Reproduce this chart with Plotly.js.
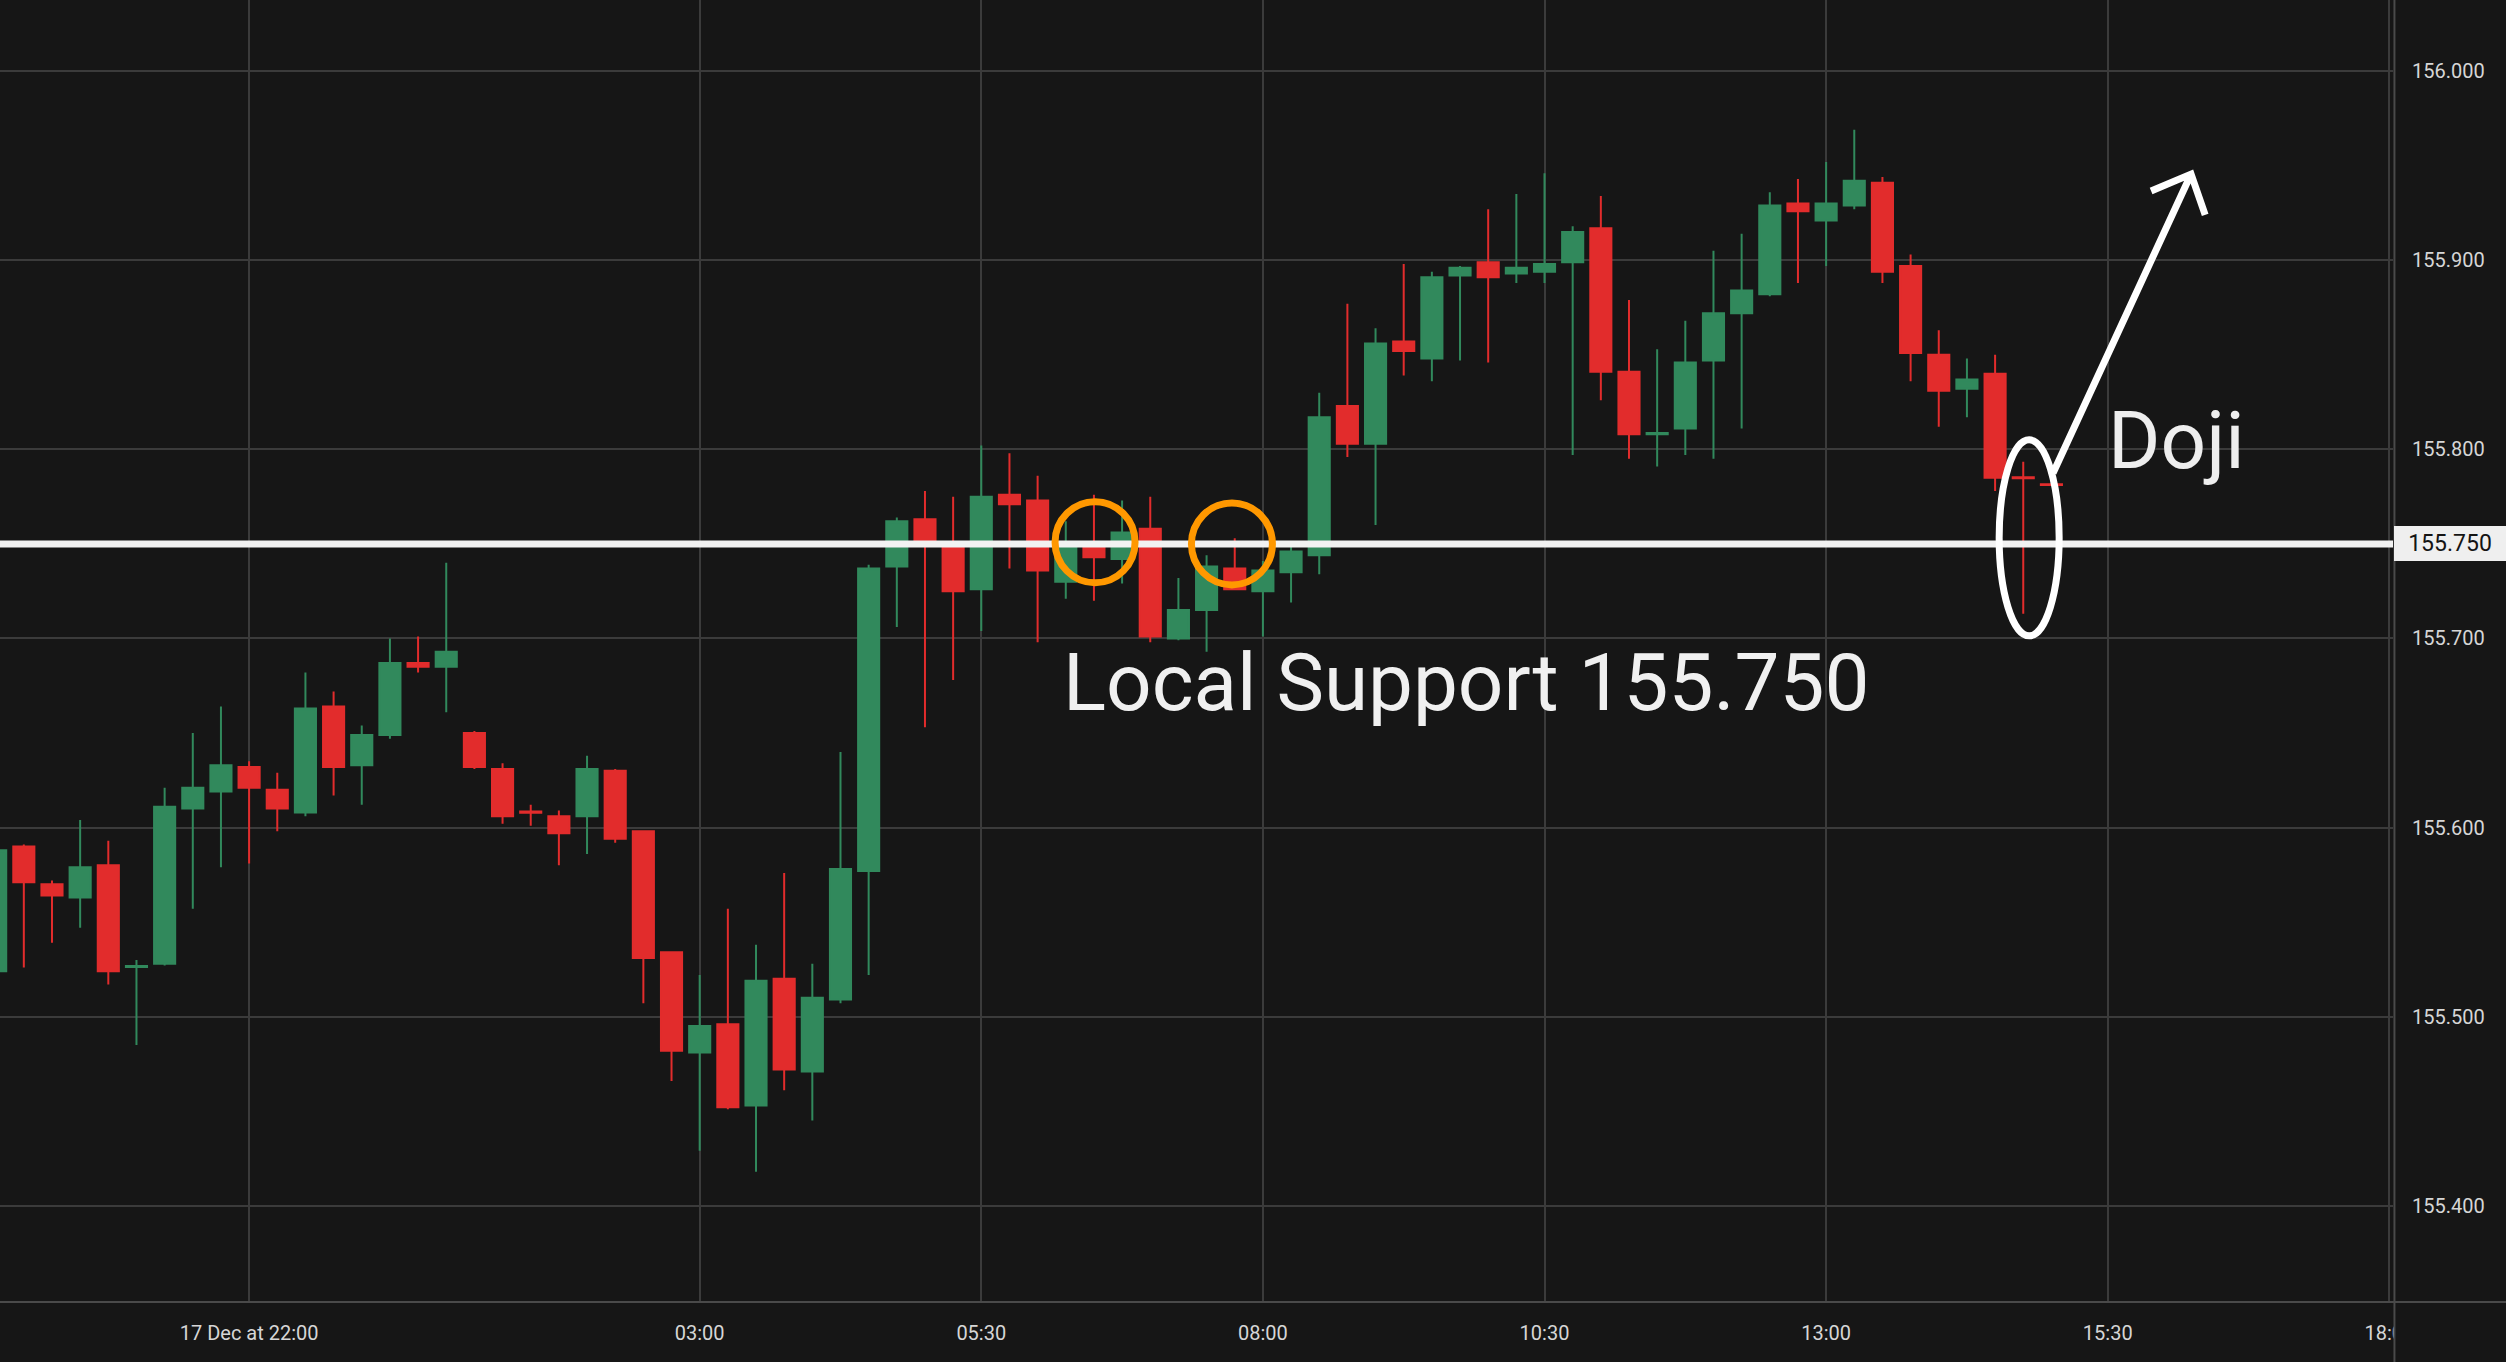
<!DOCTYPE html>
<html>
<head>
<meta charset="utf-8">
<script src="https://cdn.plot.ly/plotly-3.0.1.min.js"></script>
<style>
  html, body { margin: 0; padding: 0; background: #161616; }
  #chart { width: 2506px; height: 1362px; }
</style>
</head>
<body>
<div id="chart"></div>
<script>
// 15-minute candles, 17 Dec 19:45 -> 18 Dec 15:00 (session break 23:00-00:00)
const times = [
  '19:45','20:00','20:15','20:30','20:45','21:00','21:15','21:30','21:45',
  '22:00','22:15','22:30','22:45',
  '00:00','00:15','00:30','00:45','01:00','01:15','01:30','01:45',
  '02:00','02:15','02:30','02:45','03:00','03:15','03:30','03:45',
  '04:00','04:15','04:30','04:45','05:00','05:15','05:30','05:45',
  '06:00','06:15','06:30','06:45','07:00','07:15','07:30','07:45',
  '08:00','08:15','08:30','08:45','09:00','09:15','09:30','09:45',
  '10:00','10:15','10:30','10:45','11:00','11:15','11:30','11:45',
  '12:00','12:15','12:30','12:45','13:00','13:15','13:30','13:45',
  '14:00','14:15','14:30','14:45','15:00'
];

const opens = [
  155.524,155.590,155.570,155.563,155.580,155.5263,155.528,155.610,155.619,
  155.632,155.620,155.608,155.664,155.633,155.649,155.687,155.685,155.650,
  155.631,155.6085,155.606,155.606,155.630,155.598,155.534,155.481,155.496,
  155.453,155.520,155.471,155.509,155.577,155.738,155.763,155.749,155.726,
  155.776,155.773,155.730,155.748,155.742,155.758,155.700,155.715,155.737,
  155.725,155.735,155.744,155.823,155.803,155.857,155.848,155.892,155.899,
  155.893,155.894,155.899,155.917,155.841,155.8080,155.811,155.847,155.872,
  155.882,155.930,155.921,155.929,155.941,155.897,155.850,155.832,155.840,
  155.7853,155.7816
];
const highs = [
  155.592,155.591,155.572,155.604,155.593,155.530,155.621,155.650,155.664,
  155.635,155.629,155.682,155.672,155.654,155.700,155.701,155.740,155.651,
  155.634,155.612,155.609,155.638,155.631,155.598,155.534,155.522,155.557,
  155.538,155.576,155.528,155.640,155.739,155.764,155.778,155.775,155.802,
  155.798,155.786,155.762,155.776,155.773,155.775,155.732,155.744,155.753,
  155.741,155.749,155.830,155.877,155.864,155.898,155.894,155.897,155.927,
  155.935,155.946,155.918,155.934,155.879,155.853,155.868,155.905,155.914,
  155.936,155.943,155.952,155.969,155.944,155.903,155.863,155.848,155.850,
  155.7935,155.7818
];
const lows = [
  155.519,155.526,155.539,155.547,155.517,155.485,155.527,155.557,155.579,
  155.581,155.598,155.606,155.617,155.612,155.647,155.682,155.661,155.631,
  155.602,155.601,155.580,155.586,155.592,155.507,155.466,155.429,155.451,
  155.418,155.461,155.445,155.507,155.522,155.706,155.653,155.678,155.704,
  155.737,155.698,155.721,155.720,155.729,155.698,155.699,155.693,155.726,
  155.701,155.719,155.734,155.796,155.760,155.839,155.836,155.847,155.846,
  155.888,155.888,155.797,155.826,155.795,155.791,155.797,155.795,155.811,
  155.881,155.888,155.897,155.927,155.888,155.836,155.812,155.817,155.778,
  155.713,155.7810
];
const closes = [
  155.588,155.571,155.564,155.579,155.524,155.5267,155.611,155.621,155.633,
  155.621,155.610,155.663,155.632,155.649,155.687,155.685,155.693,155.632,
  155.606,155.6078,155.597,155.631,155.594,155.531,155.482,155.495,155.452,
  155.519,155.472,155.510,155.578,155.737,155.762,155.751,155.725,155.775,
  155.771,155.736,155.750,155.743,155.756,155.701,155.715,155.738,155.726,
  155.736,155.746,155.817,155.803,155.856,155.852,155.891,155.896,155.891,
  155.896,155.898,155.915,155.841,155.808,155.8086,155.846,155.872,155.884,
  155.929,155.926,155.930,155.942,155.894,155.851,155.831,155.837,155.785,
  155.7847,155.7812
];

const tickTimes = ['22:00','03:00','05:30','08:00','10:30','13:00','15:30','18:00'];
const tickLabels = ['17 Dec at 22:00','03:00','05:30','08:00','10:30','13:00','15:30','18:00'];
const priceTicks = [155.4,155.5,155.6,155.7,155.8,155.9,156.0];
const supportLevel = 155.750;

// bar positions derived from the time list
const xs = times.map((t, i) => i);
function toMin(t) { const p = t.split(':'); return (+p[0]) * 60 + (+p[1]); }
function timePos(t) {
  const i = times.indexOf(t);
  if (i >= 0) return i;
  const last = times.length - 1;
  return last + (toMin(t) - toMin(times[last])) / 15;
}
const tickPos = tickTimes.map(timePos);

const GREEN = '#31895c';
const RED = '#e22c2c';
const BG = '#161616';
const GRID = '#3b3b3b';

const trace = {
  type: 'candlestick',
  x: xs, open: opens, high: highs, low: lows, close: closes,
  increasing: { line: { color: GREEN, width: 2 }, fillcolor: GREEN },
  decreasing: { line: { color: RED, width: 2 }, fillcolor: RED },
  whiskerwidth: 0,
  hoverinfo: 'skip',
  showlegend: false
};

const layout = {
  width: 2506, height: 1362,
  paper_bgcolor: BG, plot_bgcolor: BG,
  margin: { l: 0, r: 113, t: 0, b: 60, pad: 0 },
  font: { family: 'Roboto, sans-serif', color: '#d4d4d4' },
  showlegend: false,
  boxgap: 0.25, boxgroupgap: 0,
  xaxis: {
    type: 'linear',
    range: [0.154, 85.13],
    tickmode: 'array', tickvals: tickPos, ticktext: tickLabels,
    showgrid: true, gridcolor: GRID, gridwidth: 2,
    zeroline: false, showline: false, ticks: '',
    tickfont: { family: 'Roboto', size: 20, color: '#d6d6d6' },
    ticklabelstandoff: 17,
    rangeslider: { visible: false },
    fixedrange: true
  },
  yaxis: {
    side: 'right',
    range: [155.34906, 156.03766],
    tickmode: 'array', tickvals: priceTicks,
    ticktext: priceTicks.map(v => v.toFixed(3)),
    showgrid: true, gridcolor: GRID, gridwidth: 2,
    zeroline: false, showline: false, ticks: '',
    tickfont: { family: 'Roboto', size: 20, color: '#d6d6d6' },
    ticklabelstandoff: 18,
    fixedrange: true
  },
  shapes: [
    // cover the part of the time axis under the price scale
    { type: 'rect', xref: 'paper', yref: 'paper', x0: 1.0004, x1: 1.06, y0: -0.06, y1: 0,
      fillcolor: BG, line: { width: 0 }, layer: 'above' },
    // panel borders
    { type: 'line', xref: 'paper', yref: 'paper', x0: 0, x1: 1.048, y0: 0, y1: 0,
      line: { color: '#4a4a4a', width: 2 }, layer: 'above' },
    { type: 'line', xref: 'paper', yref: 'paper', x0: 1.0006, x1: 1.0006, y0: -0.06, y1: 1,
      line: { color: '#4a4a4a', width: 2 }, layer: 'above' },
    // support line
    { type: 'line', xref: 'paper', yref: 'y', x0: 0, x1: 1, y0: supportLevel, y1: supportLevel,
      line: { color: '#f2f2f2', width: 7 }, layer: 'above' },
    // orange circles
    { type: 'circle', xref: 'x', yref: 'y', xsizemode: 'pixel', ysizemode: 'pixel',
      xanchor: 39.04, yanchor: 155.7509, x0: -40, x1: 40, y0: -40.5, y1: 40.5,
      line: { color: '#ff9800', width: 7 }, layer: 'above' },
    { type: 'circle', xref: 'x', yref: 'y', xsizemode: 'pixel', ysizemode: 'pixel',
      xanchor: 43.9, yanchor: 155.7500, x0: -40.5, x1: 40.5, y0: -41, y1: 41,
      line: { color: '#ff9800', width: 7 }, layer: 'above' },
    // doji ellipse
    { type: 'circle', xref: 'x', yref: 'y', xsizemode: 'pixel', ysizemode: 'pixel',
      xanchor: 72.21, yanchor: 155.7532, x0: -30, x1: 30, y0: -98, y1: 98,
      line: { color: '#ffffff', width: 7 }, layer: 'above' },
    // arrow
    { type: 'path', xref: 'x', yref: 'y',
      path: 'M 73.06,155.7875 L 77.96,155.9456 M 76.54,155.9366 L 77.96,155.9456 L 78.46,155.9240',
      line: { color: '#ffffff', width: 7 }, layer: 'above' }
  ],
  annotations: [
    { xref: 'paper', yref: 'y', x: 1.0004, y: supportLevel, xanchor: 'left', yanchor: 'middle',
      text: supportLevel.toFixed(3), showarrow: false, align: 'center',
      font: { family: 'Roboto', size: 23, color: '#141414' },
      bgcolor: '#efefef', width: 108, height: 31, borderpad: 2, borderwidth: 0 },
    { xref: 'x', yref: 'y', x: 52.21, y: 155.6767, xanchor: 'center', yanchor: 'middle',
      text: 'Local Support 155.750', showarrow: false,
      font: { family: 'Roboto', size: 80, color: '#f0f0f0' } },
    { xref: 'x', yref: 'y', x: 77.45, y: 155.8044, xanchor: 'center', yanchor: 'middle',
      text: 'Doji', showarrow: false,
      font: { family: 'Roboto', size: 80, color: '#eeeeee' } }
  ]
};

Plotly.newPlot('chart', [trace], layout, { displayModeBar: false, staticPlot: true });
</script>
</body>
</html>
